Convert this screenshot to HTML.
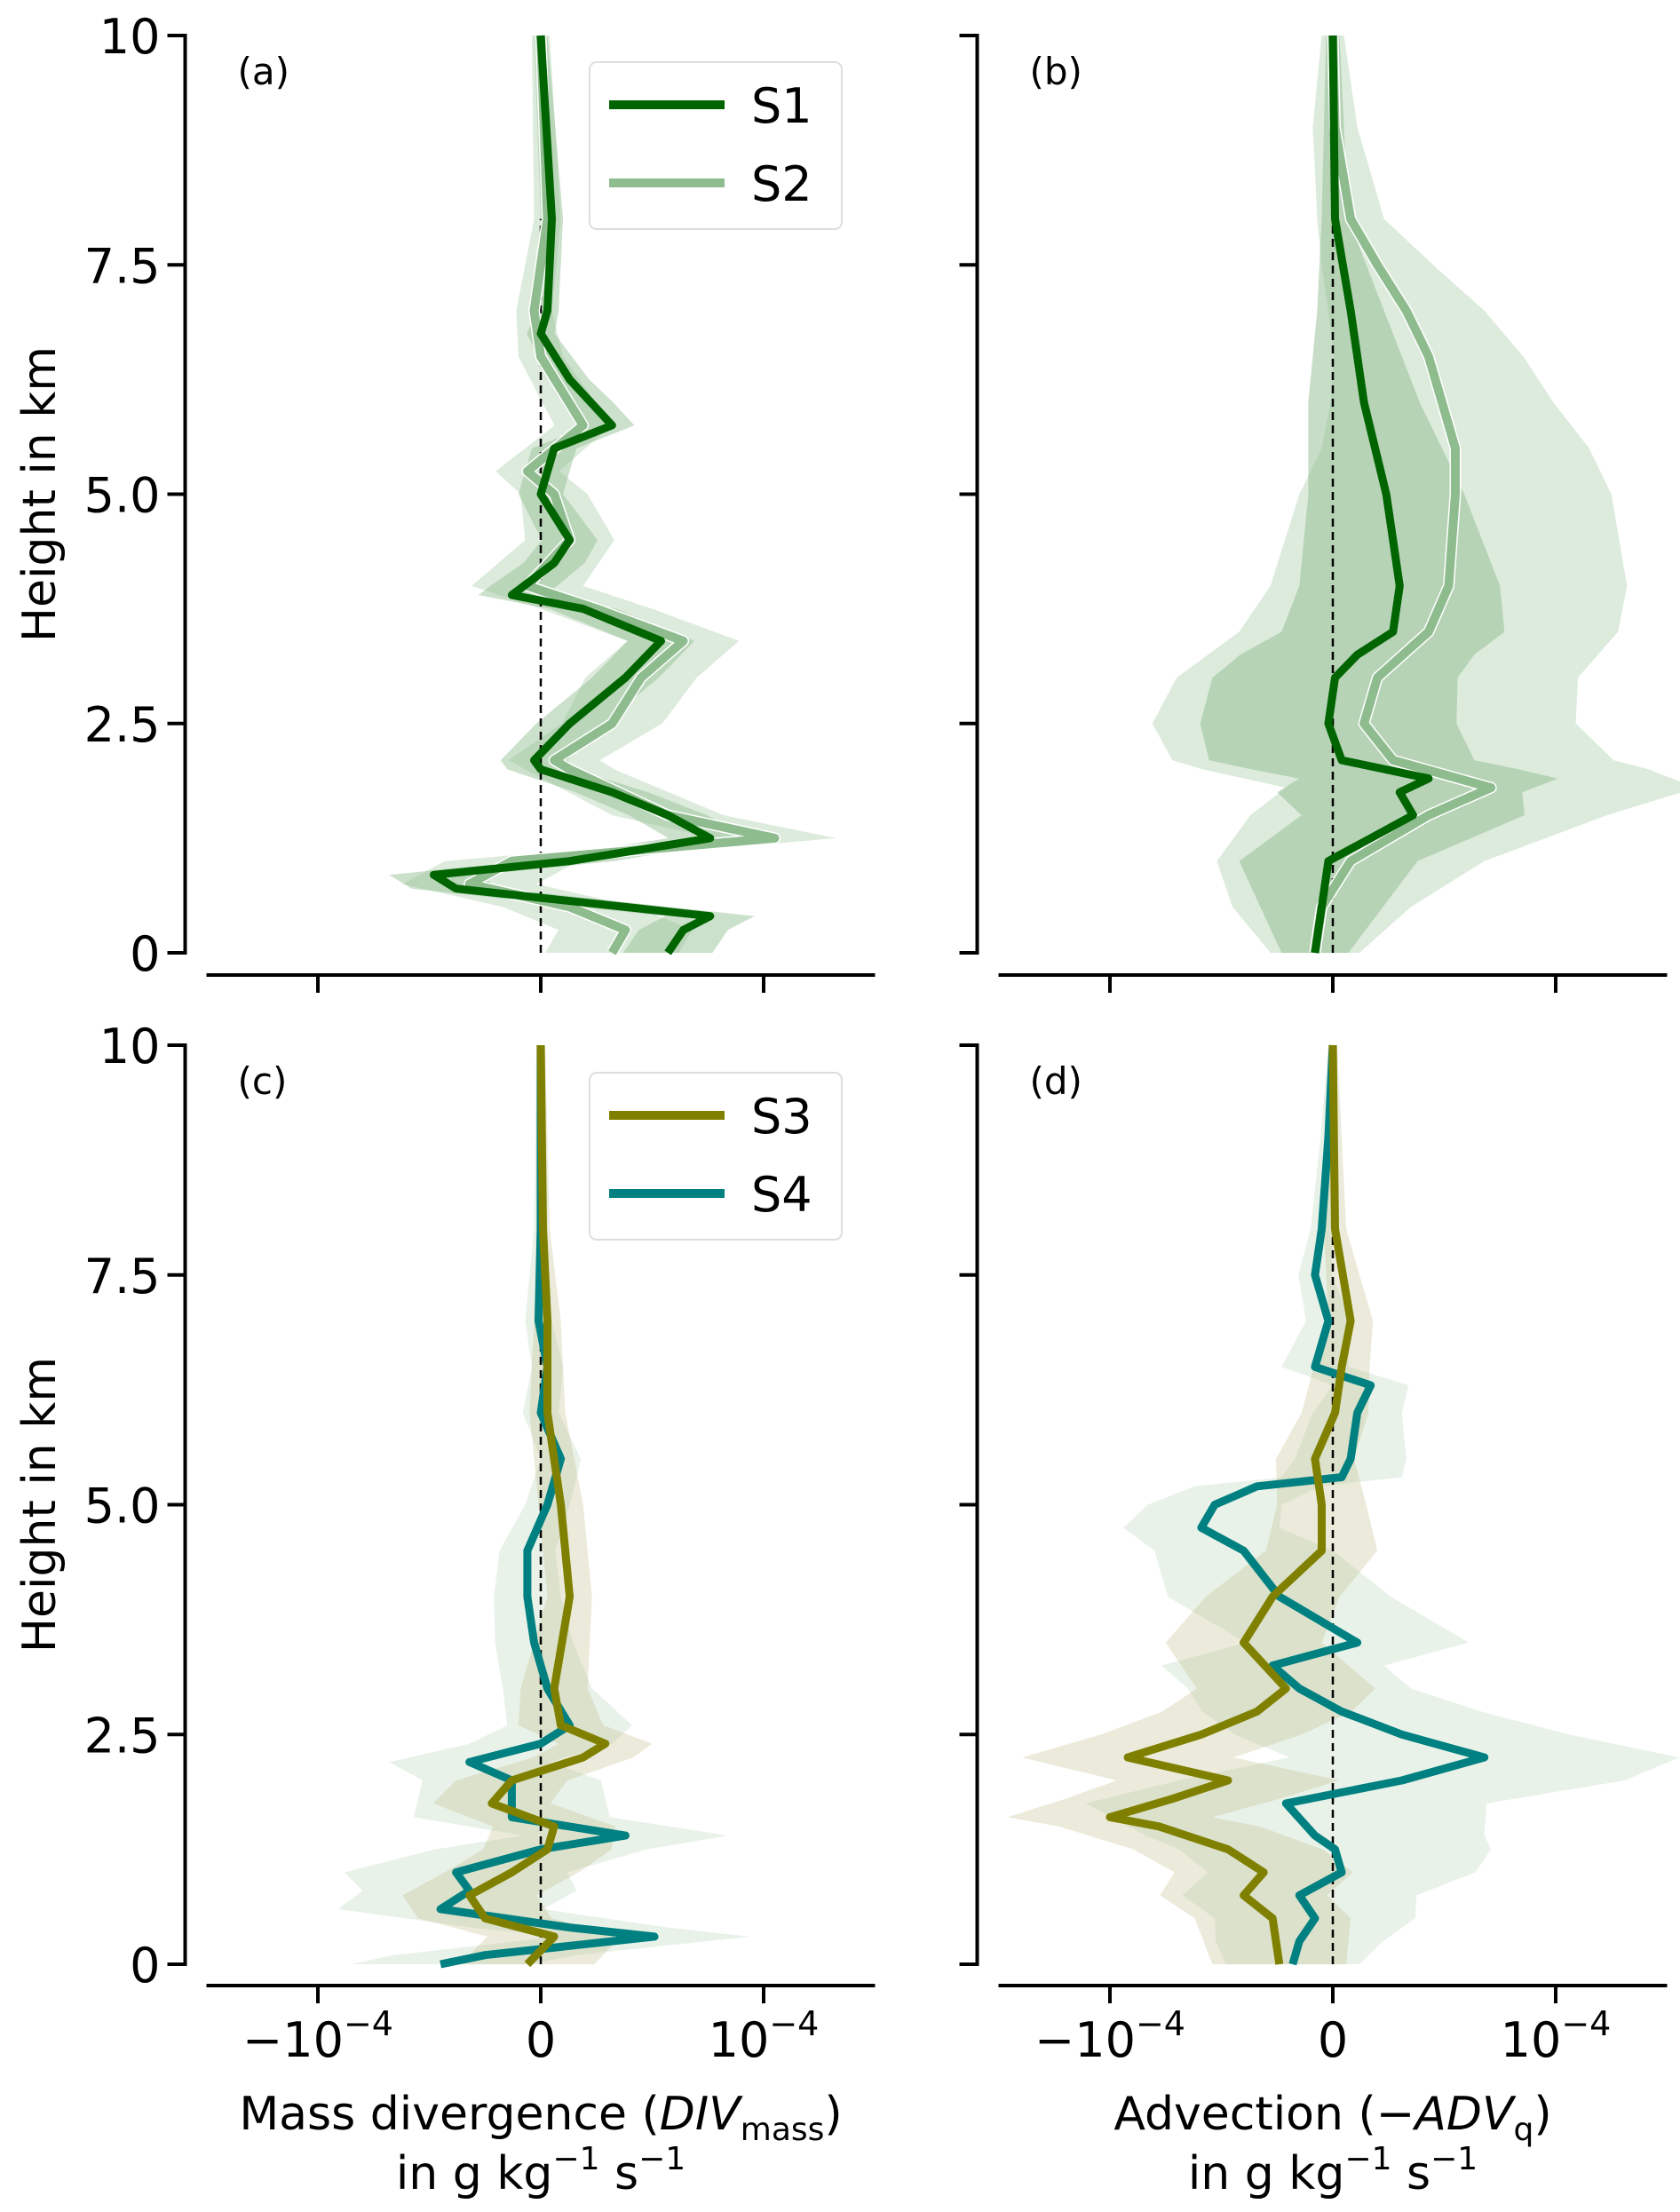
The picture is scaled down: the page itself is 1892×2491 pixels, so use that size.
<!DOCTYPE html>
<html><head><meta charset="utf-8"><style>
html,body{margin:0;padding:0;background:#fff;}
svg{display:block;font-family:"DejaVu Sans","Liberation Sans",sans-serif;}
</style></head><body>
<svg id="fig" width="1892" height="2491" viewBox="0 0 1892 2491" xmlns="http://www.w3.org/2000/svg"></svg>
<script>
// ---- data (x values in units of 1e-5 g/kg/s, heights in km) ----
const aS1H=[0,0.25,0.4,0.5,0.7,0.85,1.0,1.25,1.5,1.75,2.0,2.1,2.5,3.0,3.4,3.75,3.9,4.25,4.5,5.0,5.5,5.75,6.25,6.75,7.0,8,10];
const aS1V=[5.7,6.4,7.6,3.8,-3.8,-4.8,1.3,7.6,5.7,3.2,0,-0.3,1.3,3.8,5.4,1.9,-1.3,0.6,1.3,0,0.6,3.2,1.3,0,0.3,0.5,0];
const aS2H=[0,0.25,0.5,0.75,1.0,1.25,1.5,2.0,2.1,2.5,3.0,3.4,3.75,4.0,4.5,5.0,5.25,5.75,6.5,7.0,8,10];
const aS2V=[3.2,3.8,1.3,-3.2,-1.3,10.5,5.7,1.3,0.6,3.2,4.5,6.4,2.5,-0.6,1.3,0.6,-0.6,1.9,0,-0.3,0.3,0];
const bS1H=[0,0.5,1.0,1.25,1.5,1.75,1.9,2.1,2.5,3.0,3.25,3.5,4.0,4.5,5.0,6.0,7.0,8.0,10];
const bS1V=[-0.8,-0.5,-0.2,1.7,3.6,3.0,4.3,0.4,-0.2,0.1,1.1,2.7,3.0,2.7,2.4,1.4,0.8,0.1,0];
const bS2H=[0,0.5,1.0,1.5,1.8,2.1,2.5,3.0,3.5,4.0,5.0,5.5,6.0,6.5,7.0,7.5,8.0,9,10];
const bS2V=[-0.8,-0.5,0.8,4.3,7.1,2.7,1.4,2.0,4.3,5.2,5.5,5.5,4.9,4.3,3.3,2.0,0.8,0.1,0];
const cS3H=[0,0.3,0.5,0.75,1.0,1.25,1.5,1.75,2.0,2.25,2.4,2.6,3.0,4.0,5.0,6.0,7.0,8,10];
const cS3V=[-0.6,0.6,-2.5,-3.2,-1.3,0.3,0.6,-2.2,-1.3,1.9,2.9,0.9,0.6,1.3,0.9,0.3,0.3,0.1,0];
const cS4H=[0,0.1,0.3,0.4,0.6,0.8,1.0,1.25,1.4,1.6,2.0,2.2,2.4,2.6,3.0,3.5,4.0,4.5,5.0,5.5,6.0,6.5,7.0,8,10];
const cS4V=[-4.5,-2.5,5.1,1.3,-4.5,-3.2,-3.8,0,3.8,-1.3,-1.3,-3.2,0,1.3,0.3,-0.3,-0.6,-0.6,0.3,0.9,0,0.3,-0.1,0,0];
const dS3H=[0,0.5,0.75,1.0,1.25,1.5,1.6,1.8,2.0,2.25,2.5,2.75,3.0,3.5,4.0,4.5,5.0,5.5,6.0,6.5,7.0,8.0,10];
const dS3V=[-2.4,-2.7,-4.0,-3.1,-4.7,-7.8,-10,-7.2,-4.7,-9.2,-5.9,-3.4,-2.1,-4.0,-2.7,-0.5,-0.5,-0.8,0.1,0.4,0.8,0.1,0];
const dS4H=[0,0.25,0.5,0.75,1.0,1.25,1.4,1.75,2.0,2.25,2.5,2.75,3.0,3.25,3.5,4.0,4.5,4.75,5.0,5.2,5.3,5.5,6.0,6.3,6.5,7.0,7.5,8.0,9,10];
const dS4V=[-1.8,-1.5,-0.8,-1.5,0.4,0.1,-0.8,-2.1,3.1,6.8,3.1,0.4,-1.5,-2.7,1.1,-2.4,-4.0,-5.9,-5.3,-3.4,0.4,0.8,1.1,1.7,-0.8,-0.2,-0.8,-0.5,-0.2,0];
// spread (half-width of shading) on a common height grid
const spreadH=[0,1,2,3,4,5,6,7,8,10];
const aS1Spread=[2,2,1.5,1.5,1.5,1,1,0.5,0.5,0.3];
const aS2Spread=[3,3,2,2.5,2.5,1.5,1.2,0.8,0.6,0.4];
const bS1Spread=[1.5,4,6,5.5,4.5,3.5,2.5,1.5,0.6,0.3];
const bS2Spread=[2,6,10,9,8,7,5,3.5,1.5,0.5];
const cS3Spread=[3,3,2.5,1.5,1,1,0.8,0.6,0.3,0.2];
const cS4Spread=[4,5,4,2,1.5,1,0.8,0.6,0.3,0.2];
const dS3Spread=[3,4,5,4,3,2,1.5,1,0.5,0.2];
const dS4Spread=[3,6,10,5,5,3,2,1,0.5,0.2];
const yTicks=[0,2.5,5,7.5,10];
const yTickLabels=["0","2.5","5.0","7.5","10"];
const xTicks=[-10,0,10];

const NS="http://www.w3.org/2000/svg";
const svg=document.getElementById('fig');
function el(tag,attrs,parent){const e=document.createElementNS(NS,tag);for(const k in attrs)e.setAttribute(k,attrs[k]);(parent||svg).appendChild(e);return e;}
function interp(H,V,h){if(h<=H[0])return V[0];for(let i=1;i<H.length;i++){if(h<=H[i]){const t=(h-H[i-1])/(H[i]-H[i-1]);return V[i-1]+t*(V[i]-V[i-1]);}}return V[V.length-1];}

const panels=[
 {id:'a',x0:609,y0:1073,y10:40,xaxisY:1098,ylab:true,xlab:false,series:[
   {H:aS2H,V:aS2V,S:aS2Spread,color:'#8fbc8f',band:'rgba(143,188,143,0.3)',w:10,white:true},
   {H:aS1H,V:aS1V,S:aS1Spread,color:'#006400',band:'rgba(143,188,143,0.45)',w:9,white:false}]},
 {id:'b',x0:1501,y0:1073,y10:40,xaxisY:1098,ylab:false,xlab:false,series:[
   {H:bS2H,V:bS2V,S:bS2Spread,color:'#8fbc8f',band:'rgba(143,188,143,0.3)',w:10,white:true},
   {H:bS1H,V:bS1V,S:bS1Spread,color:'#006400',band:'rgba(143,188,143,0.5)',w:9,white:false}]},
 {id:'c',x0:609,y0:2212,y10:1177,xaxisY:2236,ylab:true,xlab:true,series:[
   {H:cS4H,V:cS4V,S:cS4Spread,color:'#008080',band:'rgba(143,188,143,0.2)',w:9,white:false},
   {H:cS3H,V:cS3V,S:cS3Spread,color:'#808000',band:'rgba(180,175,110,0.25)',w:9,white:false}]},
 {id:'d',x0:1501,y0:2212,y10:1177,xaxisY:2236,ylab:false,xlab:true,series:[
   {H:dS4H,V:dS4V,S:dS4Spread,color:'#008080',band:'rgba(143,188,143,0.2)',w:9,white:false},
   {H:dS3H,V:dS3V,S:dS3Spread,color:'#808000',band:'rgba(180,175,110,0.25)',w:9,white:false}]}
];
const pxPerUnit=25.1;
panels.forEach(p=>{
  const X=v=>p.x0+v*pxPerUnit;
  const Y=h=>p.y0+(p.y10-p.y0)*h/10;
  const g=el('g',{});
  
  
  p.series.forEach((s,si)=>{
    const left=[],right=[];
    for(let h=0;h<=10.0001;h+=0.05){const v=interp(s.H,s.V,h),sp=interp(spreadH,s.S,h);left.push(X(v-sp).toFixed(1)+','+Y(h).toFixed(1));right.push(X(v+sp).toFixed(1)+','+Y(h).toFixed(1));}
    const b=el('polygon',{points:left.concat(right.reverse()).join(' '),fill:s.band},g);
    
    
  });
  const z=el('line',{x1:X(0),x2:X(0),y1:Y(0),y2:Y(8),stroke:'#000','stroke-width':2.5,'stroke-dasharray':'9,6'},g);
  
  
  p.series.forEach((s,si)=>{
    const pts=s.H.map((h,i)=>X(s.V[i]).toFixed(1)+','+Y(h).toFixed(1)).join(' ');
    if(s.white){const o=el('polyline',{points:pts,fill:'none',stroke:'#fff','stroke-width':s.w+3,'stroke-linejoin':'round'},g);
      
      }
    const l=el('polyline',{points:pts,fill:'none',stroke:s.color,'stroke-width':s.w,'stroke-linejoin':'round'},g);
    
    
  });
  const yx=X(-15)-24;
  const ya=el('line',{x1:yx,x2:yx,y1:Y(0)+2,y2:Y(10)-2,stroke:'#000','stroke-width':4},g);
  
  
  yTicks.forEach((t,i)=>{
    const tk=el('line',{x1:yx-20,x2:yx,y1:Y(t),y2:Y(t),stroke:'#000','stroke-width':4},g);
    
    
    if(p.ylab){const tl=el('text',{x:yx-28,y:Y(t)+20,'text-anchor':'end','font-size':54},g);tl.textContent=yTickLabels[i];
      
      }
  });
  const xa=el('line',{x1:X(-15),x2:X(15),y1:p.xaxisY,y2:p.xaxisY,stroke:'#000','stroke-width':4},g);
  
  
  xTicks.forEach(t=>{
    const tk=el('line',{x1:X(t),x2:X(t),y1:p.xaxisY,y2:p.xaxisY+20,stroke:'#000','stroke-width':4},g);
    
    
    if(p.xlab){const tl=el('text',{x:X(t),y:p.xaxisY+80,'text-anchor':'middle','font-size':54},g);
      if(t===0)tl.textContent='0';else{const m=el('tspan',{},tl);m.textContent=(t<0?'\u221210':'10');const e=el('tspan',{dy:-24,'font-size':38},tl);e.textContent='\u22124';}
      
      }
  });
  const pl=el('text',{x:X(-15)+35,y:Y(10)+55,'font-size':42},g);pl.textContent='('+p.id+')';
  
  
  if(p.ylab){const yl=el('text',{x:0,y:0,'text-anchor':'middle','font-size':52,transform:'translate(62,'+((Y(0)+Y(10))/2)+') rotate(-90)'},g);yl.textContent='Height in km';
    
    }
});
function xtitle(cx,main,sub,name){
  const t=el('text',{x:cx,y:2398,'text-anchor':'middle','font-size':52});
  
  
  const a=el('tspan',{},t);a.textContent=main[0];
  const b=el('tspan',{'font-style':'italic'},t);b.textContent=main[1];
  const c=el('tspan',{'font-size':36,dy:12},t);c.textContent=sub;
  const d=el('tspan',{dy:-12},t);d.textContent=')';
  const t2=el('text',{x:cx,y:2465,'text-anchor':'middle','font-size':52});
  
  
  const u1=el('tspan',{},t2);u1.textContent='in g kg';
  const u2=el('tspan',{dy:-22,'font-size':36},t2);u2.textContent='\u22121';
  const u3=el('tspan',{dy:22},t2);u3.textContent=' s';
  const u4=el('tspan',{dy:-22,'font-size':36},t2);u4.textContent='\u22121';
}
xtitle(609,['Mass divergence (','DIV'],'mass','x-axis-title-left');
xtitle(1501,['Advection (\u2212','ADV'],'q','x-axis-title-right');
function legend(y,items,name){
  const g=el('g',{});
  
  
  const r=el('rect',{x:664,y:y,width:284,height:188,rx:8,fill:'rgba(255,255,255,0.85)',stroke:'#ddd','stroke-width':2},g);
  
  
  items.forEach((it,i)=>{
    const cy=y+48+i*88;
    const l=el('line',{x1:686,x2:816,y1:cy,y2:cy,stroke:it[1],'stroke-width':10},g);
    
    
    const t=el('text',{x:846,y:cy+20,'font-size':54},g);t.textContent=it[0];
    
    
  });
}
legend(70,[['S1','#006400'],['S2','#8fbc8f']],'legend-top');
legend(1208,[['S3','#808000'],['S4','#008080']],'legend-bottom');
</script>
</body></html>
